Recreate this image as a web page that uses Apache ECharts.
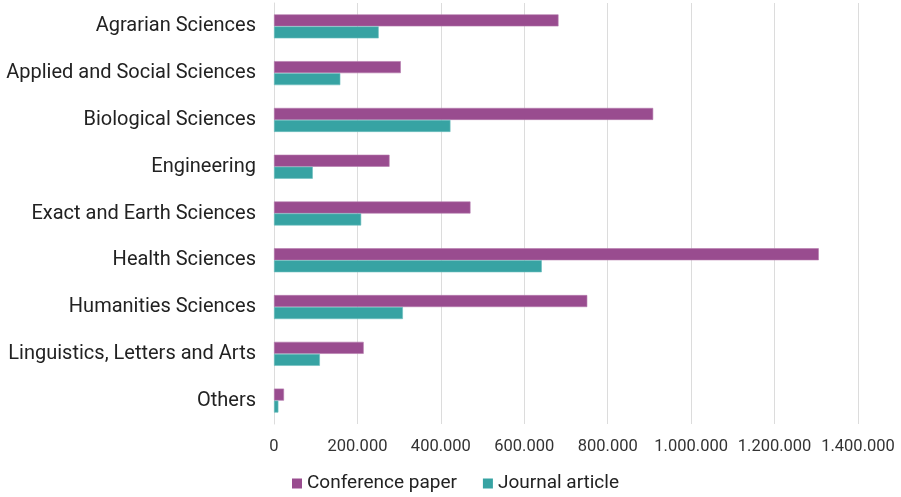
<!DOCTYPE html>
<html>
<head>
<meta charset="utf-8">
<script src="https://cdn.jsdelivr.net/npm/echarts@6/dist/echarts.min.js"></script>
<style>html,body{margin:0;padding:0;background:#fff;}#c{width:901px;height:497px;}</style>
</head>
<body>
<div id="c"></div>
<script>
const categories = ["Agrarian Sciences","Applied and Social Sciences","Biological Sciences","Engineering","Exact and Earth Sciences","Health Sciences","Humanities Sciences","Linguistics, Letters and Arts","Others"];
const conferencePaper = [682000, 304000, 909000, 277000, 471000, 1306000, 751000, 215000, 24000];
const journalArticle = [251000, 159000, 423000, 93000, 209000, 642000, 309000, 110000, 10500];
const seriesNames = ["Conference paper","Journal article"];
const xTicks = {min: 0, max: 1400000, interval: 200000};

function fmt(v){ return String(v).replace(/\B(?=(\d{3})+(?!\d))/g, "."); }

const chart = echarts.init(document.getElementById('c'), null, {renderer:'canvas'});
chart.setOption({
  animation: false,
  textStyle: {fontFamily: 'Roboto'},
  grid: {left: 274, right: 43, top: 3, bottom: 73, containLabel: false},
  legend: {
    data: seriesNames, left: 287, top: 469, icon: 'rect', itemWidth: 10, itemHeight: 10, itemGap: 26,
    itemStyle: {borderWidth: 0},
    textStyle: {fontFamily: 'Roboto', fontSize: 19, color: '#222'}
  },
  xAxis: {
    type: 'value', min: xTicks.min, max: xTicks.max, interval: xTicks.interval,
    axisLine: {show: false}, axisTick: {show: false},
    splitLine: {show: true, lineStyle: {color: '#dcdcdc', width: 1}},
    axisLabel: {formatter: fmt, fontFamily: 'Roboto', fontSize: 16.5, color: '#333', margin: 14}
  },
  yAxis: {
    type: 'category', data: categories, inverse: true,
    axisLine: {show: true, lineStyle: {color: '#dcdcdc', width: 1}},
    axisTick: {show: false},
    axisLabel: {fontFamily: 'Roboto', fontSize: 20, color: '#222', margin: 18, padding: [4, 0, 0, 0]}
  },
  series: [
    {name: seriesNames[0], type: 'bar', data: conferencePaper, barWidth: 12, barGap: '0%',
     itemStyle: {color: '#994c8f', borderColor: '#b57aad', borderWidth: 0.6}},
    {name: seriesNames[1], type: 'bar', data: journalArticle, barWidth: 12, barGap: '0%',
     itemStyle: {color: '#37a3a3', borderColor: '#6ec0c0', borderWidth: 0.6}}
  ]
});
</script>
</body>
</html>
